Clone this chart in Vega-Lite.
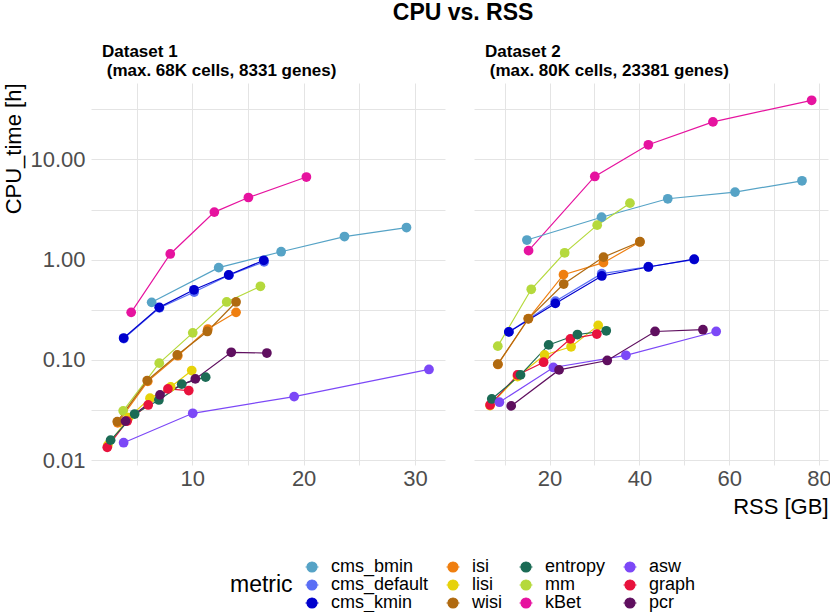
{
  "$schema": "https://vega.github.io/schema/vega-lite/v6.json",
  "padding": {"left": 2, "top": 2, "right": 4, "bottom": 2},
  "background": "white",
  "title": {"text": "CPU vs. RSS", "fontSize": 23, "fontWeight": "bold", "anchor": "middle", "dx": 46, "offset": 18, "color": "black"},
  "config": {
    "font": "Liberation Sans",
    "view": {"stroke": null},
    "axis": {
      "grid": true, "gridColor": "#E4E4E4", "gridWidth": 1,
      "domain": false, "ticks": false,
      "labelFontSize": 22, "labelColor": "#4D4D4D",
      "titleFontSize": 22, "titleFontWeight": "normal", "titleColor": "black"
    },
    "title": {"color": "black"}
  },
  "data": {"values": [
    {"d": "Dataset 1", "metric": "kBet", "rss": 4.51, "cpu": 0.298},
    {"d": "Dataset 1", "metric": "kBet", "rss": 8.02, "cpu": 1.14},
    {"d": "Dataset 1", "metric": "kBet", "rss": 11.98, "cpu": 2.98},
    {"d": "Dataset 1", "metric": "kBet", "rss": 15.04, "cpu": 4.17},
    {"d": "Dataset 1", "metric": "kBet", "rss": 20.25, "cpu": 6.67},
    {"d": "Dataset 1", "metric": "cms_bmin", "rss": 6.35, "cpu": 0.375},
    {"d": "Dataset 1", "metric": "cms_bmin", "rss": 12.37, "cpu": 0.832},
    {"d": "Dataset 1", "metric": "cms_bmin", "rss": 17.98, "cpu": 1.2},
    {"d": "Dataset 1", "metric": "cms_bmin", "rss": 23.67, "cpu": 1.7},
    {"d": "Dataset 1", "metric": "cms_bmin", "rss": 29.24, "cpu": 2.09},
    {"d": "Dataset 1", "metric": "cms_default", "rss": 3.85, "cpu": 0.163},
    {"d": "Dataset 1", "metric": "cms_default", "rss": 7.05, "cpu": 0.33},
    {"d": "Dataset 1", "metric": "cms_default", "rss": 10.17, "cpu": 0.475},
    {"d": "Dataset 1", "metric": "cms_default", "rss": 13.3, "cpu": 0.7},
    {"d": "Dataset 1", "metric": "cms_default", "rss": 16.45, "cpu": 0.95},
    {"d": "Dataset 1", "metric": "cms_kmin", "rss": 3.83, "cpu": 0.165},
    {"d": "Dataset 1", "metric": "cms_kmin", "rss": 7.03, "cpu": 0.334},
    {"d": "Dataset 1", "metric": "cms_kmin", "rss": 10.15, "cpu": 0.5},
    {"d": "Dataset 1", "metric": "cms_kmin", "rss": 13.27, "cpu": 0.703},
    {"d": "Dataset 1", "metric": "cms_kmin", "rss": 16.42, "cpu": 0.986},
    {"d": "Dataset 1", "metric": "mm", "rss": 3.79, "cpu": 0.031},
    {"d": "Dataset 1", "metric": "mm", "rss": 7.03, "cpu": 0.0927},
    {"d": "Dataset 1", "metric": "mm", "rss": 10.04, "cpu": 0.186},
    {"d": "Dataset 1", "metric": "mm", "rss": 13.09, "cpu": 0.378},
    {"d": "Dataset 1", "metric": "mm", "rss": 16.12, "cpu": 0.542},
    {"d": "Dataset 1", "metric": "isi", "rss": 3.3, "cpu": 0.0235},
    {"d": "Dataset 1", "metric": "isi", "rss": 6.0, "cpu": 0.061},
    {"d": "Dataset 1", "metric": "isi", "rss": 8.7, "cpu": 0.11},
    {"d": "Dataset 1", "metric": "isi", "rss": 11.4, "cpu": 0.203},
    {"d": "Dataset 1", "metric": "isi", "rss": 13.93, "cpu": 0.298},
    {"d": "Dataset 1", "metric": "wisi", "rss": 3.26, "cpu": 0.0242},
    {"d": "Dataset 1", "metric": "wisi", "rss": 5.95, "cpu": 0.0622},
    {"d": "Dataset 1", "metric": "wisi", "rss": 8.65, "cpu": 0.112},
    {"d": "Dataset 1", "metric": "wisi", "rss": 11.35, "cpu": 0.192},
    {"d": "Dataset 1", "metric": "wisi", "rss": 13.93, "cpu": 0.378},
    {"d": "Dataset 1", "metric": "lisi", "rss": 2.42, "cpu": 0.0141},
    {"d": "Dataset 1", "metric": "lisi", "rss": 4.28, "cpu": 0.0265},
    {"d": "Dataset 1", "metric": "lisi", "rss": 6.2, "cpu": 0.0414},
    {"d": "Dataset 1", "metric": "lisi", "rss": 8.06, "cpu": 0.0537},
    {"d": "Dataset 1", "metric": "lisi", "rss": 9.95, "cpu": 0.0783},
    {"d": "Dataset 1", "metric": "graph", "rss": 2.36, "cpu": 0.0134},
    {"d": "Dataset 1", "metric": "graph", "rss": 4.15, "cpu": 0.0245},
    {"d": "Dataset 1", "metric": "graph", "rss": 6.04, "cpu": 0.0355},
    {"d": "Dataset 1", "metric": "graph", "rss": 7.81, "cpu": 0.0513},
    {"d": "Dataset 1", "metric": "graph", "rss": 9.68, "cpu": 0.0494},
    {"d": "Dataset 1", "metric": "entropy", "rss": 2.66, "cpu": 0.0158},
    {"d": "Dataset 1", "metric": "entropy", "rss": 4.82, "cpu": 0.0288},
    {"d": "Dataset 1", "metric": "entropy", "rss": 7.0, "cpu": 0.0398},
    {"d": "Dataset 1", "metric": "entropy", "rss": 9.05, "cpu": 0.0572},
    {"d": "Dataset 1", "metric": "entropy", "rss": 11.2, "cpu": 0.0672},
    {"d": "Dataset 1", "metric": "pcr", "rss": 4.0, "cpu": 0.0245},
    {"d": "Dataset 1", "metric": "pcr", "rss": 7.1, "cpu": 0.0447},
    {"d": "Dataset 1", "metric": "pcr", "rss": 10.27, "cpu": 0.0646},
    {"d": "Dataset 1", "metric": "pcr", "rss": 13.5, "cpu": 0.119},
    {"d": "Dataset 1", "metric": "pcr", "rss": 16.7, "cpu": 0.117},
    {"d": "Dataset 1", "metric": "asw", "rss": 3.83, "cpu": 0.0149},
    {"d": "Dataset 1", "metric": "asw", "rss": 10.04, "cpu": 0.0293},
    {"d": "Dataset 1", "metric": "asw", "rss": 19.15, "cpu": 0.043},
    {"d": "Dataset 1", "metric": "asw", "rss": 31.26, "cpu": 0.0802},
    {"d": "Dataset 2", "metric": "kBet", "rss": 15.32, "cpu": 1.23},
    {"d": "Dataset 2", "metric": "kBet", "rss": 30.07, "cpu": 6.76},
    {"d": "Dataset 2", "metric": "kBet", "rss": 42.0, "cpu": 14.0},
    {"d": "Dataset 2", "metric": "kBet", "rss": 56.38, "cpu": 23.7},
    {"d": "Dataset 2", "metric": "kBet", "rss": 78.36, "cpu": 38.9},
    {"d": "Dataset 2", "metric": "cms_bmin", "rss": 14.95, "cpu": 1.57},
    {"d": "Dataset 2", "metric": "cms_bmin", "rss": 31.57, "cpu": 2.65},
    {"d": "Dataset 2", "metric": "cms_bmin", "rss": 46.32, "cpu": 4.05},
    {"d": "Dataset 2", "metric": "cms_bmin", "rss": 61.3, "cpu": 4.72},
    {"d": "Dataset 2", "metric": "cms_bmin", "rss": 76.21, "cpu": 6.12},
    {"d": "Dataset 2", "metric": "mm", "rss": 8.47, "cpu": 0.137},
    {"d": "Dataset 2", "metric": "mm", "rss": 15.92, "cpu": 0.506},
    {"d": "Dataset 2", "metric": "mm", "rss": 23.36, "cpu": 1.17},
    {"d": "Dataset 2", "metric": "mm", "rss": 30.6, "cpu": 2.21},
    {"d": "Dataset 2", "metric": "mm", "rss": 37.9, "cpu": 3.66},
    {"d": "Dataset 2", "metric": "isi", "rss": 8.5, "cpu": 0.09},
    {"d": "Dataset 2", "metric": "isi", "rss": 15.3, "cpu": 0.258},
    {"d": "Dataset 2", "metric": "isi", "rss": 23.1, "cpu": 0.708},
    {"d": "Dataset 2", "metric": "isi", "rss": 32.0, "cpu": 0.933},
    {"d": "Dataset 2", "metric": "isi", "rss": 40.1, "cpu": 1.5},
    {"d": "Dataset 2", "metric": "wisi", "rss": 8.47, "cpu": 0.0906},
    {"d": "Dataset 2", "metric": "wisi", "rss": 15.25, "cpu": 0.257},
    {"d": "Dataset 2", "metric": "wisi", "rss": 23.14, "cpu": 0.571},
    {"d": "Dataset 2", "metric": "wisi", "rss": 32.01, "cpu": 1.06},
    {"d": "Dataset 2", "metric": "wisi", "rss": 40.13, "cpu": 1.51},
    {"d": "Dataset 2", "metric": "cms_default", "rss": 10.95, "cpu": 0.19},
    {"d": "Dataset 2", "metric": "cms_default", "rss": 21.3, "cpu": 0.385},
    {"d": "Dataset 2", "metric": "cms_default", "rss": 31.6, "cpu": 0.725},
    {"d": "Dataset 2", "metric": "cms_default", "rss": 42.0, "cpu": 0.85},
    {"d": "Dataset 2", "metric": "cms_default", "rss": 52.2, "cpu": 1.0},
    {"d": "Dataset 2", "metric": "cms_kmin", "rss": 10.93, "cpu": 0.19},
    {"d": "Dataset 2", "metric": "cms_kmin", "rss": 21.28, "cpu": 0.366},
    {"d": "Dataset 2", "metric": "cms_kmin", "rss": 31.63, "cpu": 0.687},
    {"d": "Dataset 2", "metric": "cms_kmin", "rss": 42.0, "cpu": 0.845},
    {"d": "Dataset 2", "metric": "cms_kmin", "rss": 52.2, "cpu": 1.01},
    {"d": "Dataset 2", "metric": "lisi", "rss": 6.75, "cpu": 0.035},
    {"d": "Dataset 2", "metric": "lisi", "rss": 12.86, "cpu": 0.0682},
    {"d": "Dataset 2", "metric": "lisi", "rss": 18.89, "cpu": 0.112},
    {"d": "Dataset 2", "metric": "lisi", "rss": 24.79, "cpu": 0.135},
    {"d": "Dataset 2", "metric": "lisi", "rss": 30.83, "cpu": 0.221},
    {"d": "Dataset 2", "metric": "graph", "rss": 6.75, "cpu": 0.0355},
    {"d": "Dataset 2", "metric": "graph", "rss": 12.86, "cpu": 0.0708},
    {"d": "Dataset 2", "metric": "graph", "rss": 18.67, "cpu": 0.0948},
    {"d": "Dataset 2", "metric": "graph", "rss": 24.64, "cpu": 0.162},
    {"d": "Dataset 2", "metric": "graph", "rss": 30.52, "cpu": 0.181},
    {"d": "Dataset 2", "metric": "entropy", "rss": 7.13, "cpu": 0.0407},
    {"d": "Dataset 2", "metric": "entropy", "rss": 13.53, "cpu": 0.0708},
    {"d": "Dataset 2", "metric": "entropy", "rss": 19.79, "cpu": 0.141},
    {"d": "Dataset 2", "metric": "entropy", "rss": 26.2, "cpu": 0.179},
    {"d": "Dataset 2", "metric": "entropy", "rss": 32.62, "cpu": 0.195},
    {"d": "Dataset 2", "metric": "asw", "rss": 8.83, "cpu": 0.0378},
    {"d": "Dataset 2", "metric": "asw", "rss": 20.84, "cpu": 0.084},
    {"d": "Dataset 2", "metric": "asw", "rss": 37.0, "cpu": 0.111},
    {"d": "Dataset 2", "metric": "asw", "rss": 57.1, "cpu": 0.192},
    {"d": "Dataset 2", "metric": "pcr", "rss": 11.45, "cpu": 0.0347},
    {"d": "Dataset 2", "metric": "pcr", "rss": 22.11, "cpu": 0.0794},
    {"d": "Dataset 2", "metric": "pcr", "rss": 32.84, "cpu": 0.0986},
    {"d": "Dataset 2", "metric": "pcr", "rss": 43.49, "cpu": 0.192},
    {"d": "Dataset 2", "metric": "pcr", "rss": 54.15, "cpu": 0.2}
  ]},
  "spacing": 29,
  "resolve": {"scale": {"x": "independent", "y": "shared", "color": "shared"}},
  "hconcat": [
    {
      "width": 354, "height": 382,
      "title": {"text": ["Dataset 1", "\u200b (max. 68K cells, 8331 genes)"], "anchor": "start", "frame": "group", "dx": 11, "fontSize": 17, "fontWeight": "bold", "lineHeight": 19, "offset": 3},
      "transform": [{"filter": "datum.d == 'Dataset 1'"}],
      "encoding": {
        "x": {"field": "rss", "type": "quantitative",
              "scale": {"domain": [0.9, 32.7], "nice": false, "zero": false},
              "axis": {"values": [5, 10, 15, 20, 25, 30], "labelExpr": "datum.value % 10 == 0 ? datum.label : ''", "title": null, "labelPadding": 3}},
        "y": {"field": "cpu", "type": "quantitative",
              "scale": {"type": "log", "domain": [0.00893, 57.9], "nice": false},
              "axis": {"values": [0.01, 0.0316228, 0.1, 0.316228, 1, 3.16228, 10, 31.6228],
                       "labelExpr": "abs(log(datum.value)/LN10 - round(log(datum.value)/LN10)) < 0.01 ? format(datum.value, '.2f') : ''",
                       "title": "CPU_time [h]", "titleAnchor": "end", "labelPadding": 6, "titlePadding": 4}},
        "color": {"field": "metric", "type": "nominal",
                  "scale": {"domain": ["cms_bmin", "isi", "entropy", "asw", "cms_default", "lisi", "mm", "graph", "cms_kmin", "wisi", "kBet", "pcr"],
                            "range": ["#56A3C6", "#EF7F10", "#1B6B55", "#7C48F7", "#5B6FF5", "#E6D20A", "#B5D93C", "#E8123D", "#0000CD", "#B06A10", "#E6139F", "#5F0F5F"]},
                  "legend": {"orient": "none", "legendX": 139, "legendY": 475, "columns": 4, "direction": "horizontal",
                             "title": "metric", "titleOrient": "left", "titleAnchor": "middle", "titleFontSize": 23, "titleFontWeight": "normal", "titleColor": "black", "titlePadding": 10,
                             "labelFontSize": 18, "labelColor": "black", "labelOffset": 10, "columnPadding": 15, "rowPadding": 0,
                             "symbolType": "M-1.3,0L1.3,0M1,0A1,1,0,1,1,-1,0A1,1,0,1,1,1,0Z", "symbolSize": 100, "symbolOpacity": 1,
                             "encode": {"symbols": {"update": {"stroke": {"scale": "color", "field": "value"}, "strokeWidth": {"value": 1.2}}}}}}
      },
      "layer": [
        {"mark": {"type": "line", "strokeWidth": 1.2}},
        {"mark": {"type": "point", "filled": true, "size": 95, "opacity": 1}}
      ]
    },
    {
      "width": 354, "height": 382,
      "title": {"text": ["Dataset 2", "\u200b (max. 80K cells, 23381 genes)"], "anchor": "start", "frame": "group", "dx": 11, "fontSize": 17, "fontWeight": "bold", "lineHeight": 19, "offset": 3},
      "transform": [{"filter": "datum.d == 'Dataset 2'"}],
      "encoding": {
        "x": {"field": "rss", "type": "quantitative",
              "scale": {"domain": [3.17, 82], "nice": false, "zero": false},
              "axis": {"values": [10, 20, 30, 40, 50, 60, 70, 80], "labelExpr": "datum.value % 20 == 0 ? datum.label : ''", "title": "RSS [GB]", "titleAnchor": "end", "labelPadding": 3, "titlePadding": 7}},
        "y": {"field": "cpu", "type": "quantitative",
              "scale": {"type": "log", "domain": [0.00893, 57.9], "nice": false},
              "axis": {"values": [0.01, 0.0316228, 0.1, 0.316228, 1, 3.16228, 10, 31.6228], "labels": false, "title": null}},
        "color": {"field": "metric", "type": "nominal", "legend": null}
      },
      "layer": [
        {"mark": {"type": "line", "strokeWidth": 1.2}},
        {"mark": {"type": "point", "filled": true, "size": 95, "opacity": 1}}
      ]
    }
  ]
}
